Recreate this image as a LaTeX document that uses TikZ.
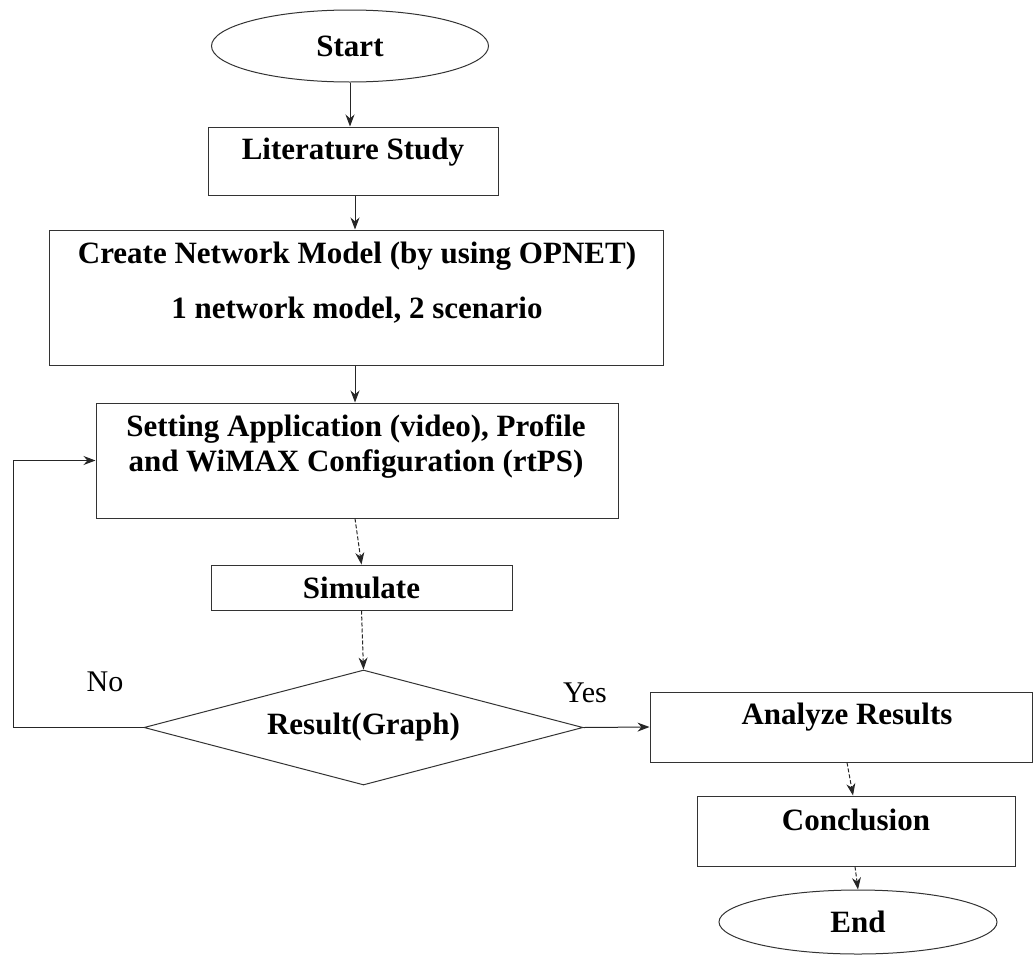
\documentclass[tikz,border=0pt]{standalone}
\usepackage{fontspec}
\setmainfont{Liberation Serif}
\usetikzlibrary{shapes.geometric, arrows.meta}

\begin{document}
\begin{tikzpicture}[x=1pt, y=-1pt, >={Stealth[length=12pt,width=9pt]},
	box/.style={draw=black!80, line width=1pt, inner sep=0pt},
	oval/.style={box, ellipse},
	raute/.style={box, diamond, aspect=3.8},
	txt/.style={font=\bfseries\fontsize{31}{35}\selectfont, align=center, inner sep=0pt},
	lbl/.style={font=\fontsize{30}{35}\selectfont, inner sep=0pt},
	pfeil/.style={->, line width=1pt, black!85},
	strich/.style={pfeil, dash pattern=on 4pt off 2pt}]
		\useasboundingbox (0,0) rectangle (1036,956);
		
		% Knoten
		\node[oval, txt, minimum width=277, minimum height=72] (start) at (350,46) {Start};
		\node[box, minimum width=290, minimum height=68] (lit) at (353,161) {};
		\node[txt] (littxt) at (353,152) {Literature Study};
		\node[box, minimum width=614, minimum height=135] (create) at (356,297.5) {};
		\node[txt] (createtxt) at (357,283) {Create Network Model (by using OPNET)\\[20pt]1 network model,  2 scenario};
		\node[box, minimum width=522, minimum height=115] (set) at (357,460.5) {};
		\node[txt] (settxt) at (356,446) {Setting Application (video), Profile\\and WiMAX Configuration (rtPS)};
		\node[box, txt, minimum width=301, minimum height=45] (sim) at (361.5,587.5) {Simulate};
		\node[raute, txt, minimum width=439, minimum height=115] (res) at (363.5,727.5) {Result(Graph)};
		\node[box, minimum width=382, minimum height=70] (ana) at (841,727) {};
		\node[txt] (anatxt) at (847,717) {Analyze Results};
		\node[box, minimum width=318, minimum height=70] (conc) at (856,831) {};
		\node[txt] (conctxt) at (856,820) {Conclusion};
		\node[oval, txt, minimum width=278, minimum height=64] (ende) at (858,922) {End};
		
		% Beschriftung
		\node[lbl] (nein) at (105,682) {No};
		\node[lbl] (ja) at (585,693) {Yes};
		
		% Pfeile
		\draw[pfeil] (start.south) -- (start.south |- lit.north);
		\draw[pfeil] ([xshift=2pt]lit.south) -- ([xshift=-1pt]create.north);
		\draw[pfeil] ([xshift=-1pt]create.south) -- ([xshift=-2pt]set.north);
		\draw[strich] ([xshift=-2pt]set.south) -- (sim.north);
		\draw[strich] (sim.south) -- (res.north);
		\draw[pfeil] (res.west) -- ++(-130,0) |- (set.west);
		\draw[pfeil] (res.east) -- (ana.west);
		\draw[strich] ([xshift=6pt]ana.south) -- ([xshift=-3pt]conc.north);
		\draw[strich] ([xshift=-1pt]conc.south) -- (ende.north);
	\end{tikzpicture}
\end{document}
